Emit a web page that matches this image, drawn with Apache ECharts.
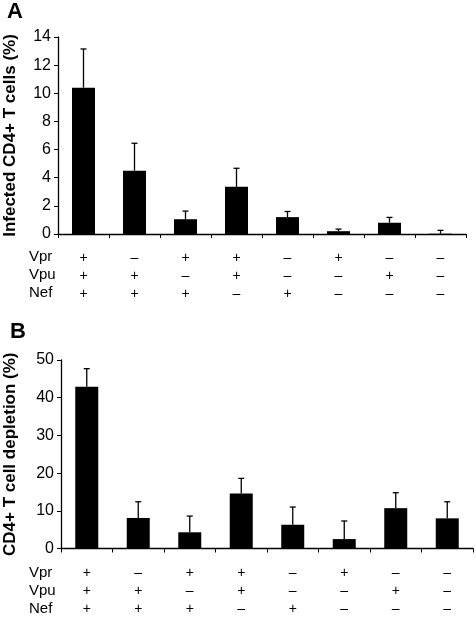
<!DOCTYPE html>
<html>
<head>
<meta charset="utf-8">
<script src="https://cdn.jsdelivr.net/npm/echarts@6/dist/echarts.min.js"></script>
<style>
  html, body { margin: 0; padding: 0; background: #fff; }
  #chart { width: 476px; height: 630px; }
</style>
</head>
<body>
<div id="chart"></div>
<script>
// constructs, one per bar
var vpr = ['+', '–', '+', '+', '–', '+', '–', '–'];
var vpu = ['+', '+', '–', '+', '–', '–', '+', '–'];
var nef = ['+', '+', '+', '–', '+', '–', '–', '–'];
var rowNames = ['Vpr', 'Vpu', 'Nef'];

// panel A: infected CD4+ T cells (%)
var infected = [10.4, 4.5, 1.05, 3.35, 1.2, 0.2, 0.8, 0.02];
var infectedErr = [13.15, 6.45, 1.63, 4.67, 1.6, 0.35, 1.18, 0.26];

// panel B: CD4+ T cell depletion (%)
var depletion = [42.9, 8.1, 4.3, 14.6, 6.3, 2.5, 10.7, 8.0];
var depletionErr = [47.7, 12.4, 8.6, 18.6, 11.0, 7.3, 14.8, 12.4];

var cats = vpr.map(function (v, i) { return v + '\n' + vpu[i] + '\n' + nef[i]; });

var font = 'Liberation Sans, Arial, sans-serif';

function errBar(vals, tops, xi, yi) {
    return {
        type: 'custom',
        xAxisIndex: xi,
        yAxisIndex: yi,
        z: 1,
        data: vals.map(function (v, i) { return [i, v, tops[i]]; }),
        renderItem: function (params, api) {
            var lo = api.coord([api.value(0), api.value(1)]);
            var hi = api.coord([api.value(0), api.value(2)]);
            var st = { stroke: '#000', lineWidth: 1.3 };
            return {
                type: 'group',
                children: [
                    { type: 'line', shape: { x1: lo[0], y1: lo[1], x2: hi[0], y2: hi[1] }, style: st },
                    { type: 'line', shape: { x1: hi[0] - 3, y1: hi[1], x2: hi[0] + 3, y2: hi[1] }, style: st }
                ]
            };
        }
    };
}

function xAx(gi, margin) {
    return {
        type: 'category',
        gridIndex: gi,
        data: cats,
        axisLine: { lineStyle: { color: '#000', width: 1.3 } },
        axisTick: { show: true, alignWithLabel: false, length: 4, lineStyle: { color: '#000' } },
        axisLabel: {
            margin: margin, color: '#000', fontFamily: font, fontSize: 14,
            lineHeight: 18, verticalAlign: 'top'
        }
    };
}

function yAx(gi, max, interval, name, gap) {
    return {
        type: 'value',
        gridIndex: gi,
        min: 0, max: max, interval: interval,
        name: name,
        nameLocation: 'middle',
        nameRotate: 90,
        nameGap: gap,
        nameTextStyle: { color: '#000', fontFamily: font, fontSize: 17, fontWeight: 'bold' },
        axisLine: { show: true, lineStyle: { color: '#000', width: 1.3 } },
        axisTick: { show: true, length: 4, lineStyle: { color: '#000' } },
        axisLabel: { color: '#000', fontFamily: font, fontSize: 16, margin: 7 },
        splitLine: { show: false }
    };
}

function rowLabels(top) {
    return rowNames.map(function (n, i) {
        return {
            type: 'text', left: 29, top: top + i * 18,
            style: { text: n, fill: '#000', font: '15px ' + font }
        };
    });
}

var chart = echarts.init(document.getElementById('chart'));
chart.setOption({
    animation: false,
    backgroundColor: '#fff',
    grid: [
        { left: 58, right: 10, top: 37, bottom: 396, containLabel: false, outerBoundsMode: 'none' },
        { left: 61, right: 3, top: 360, bottom: 81.5, containLabel: false, outerBoundsMode: 'none' }
    ],
    xAxis: [xAx(0, 15), xAx(1, 16)],
    yAxis: [
        yAx(0, 14, 2, 'Infected CD4+ T cells (%)', 39),
        yAx(1, 50, 10, 'CD4+ T cell depletion (%)', 42)
    ],
    graphic: [
        { type: 'text', left: 7, top: 1, style: { text: 'A', fill: '#000', font: 'bold 22px ' + font } },
        { type: 'text', left: 10, top: 321, style: { text: 'B', fill: '#000', font: 'bold 22px ' + font } }
    ].concat(rowLabels(249), rowLabels(565)),
    series: [
        errBar(infected, infectedErr, 0, 0),
        { type: 'bar', xAxisIndex: 0, yAxisIndex: 0, data: infected, barWidth: 23, z: 2,
          itemStyle: { color: '#000' } },
        errBar(depletion, depletionErr, 1, 1),
        { type: 'bar', xAxisIndex: 1, yAxisIndex: 1, data: depletion, barWidth: 23, z: 2,
          itemStyle: { color: '#000' } }
    ]
});
</script>
</body>
</html>
